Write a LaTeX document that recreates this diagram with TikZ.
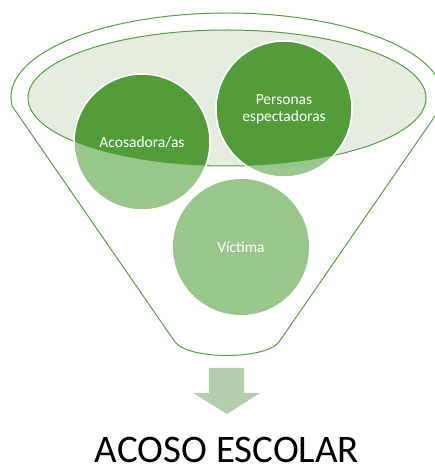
\documentclass[tikz,border=0pt]{standalone}
\usepackage{fontspec}
\setmainfont{Carlito}
\definecolor{funnelgreen}{HTML}{56A03F}
\definecolor{darkgreen}{HTML}{529D3A}
\definecolor{lightgreen}{HTML}{99C68A}
\definecolor{ellfill}{HTML}{E5EDE1}
\definecolor{arrowgreen}{HTML}{B4CEAD}
\tikzset{
  funnelline/.style={draw=funnelgreen, line width=1pt, fill=white},
  innerell/.style={draw=funnelgreen, line width=1pt, fill=ellfill},
  ball/.style={circle, minimum size=136pt, inner sep=0pt, fill=lightgreen, draw=white, line width=1.5pt},
  balllabel/.style={text=white, font=\fontsize{15.5}{17}\selectfont, align=center},
  bigarrow/.style={fill=arrowgreen},
  title/.style={font=\fontsize{39}{44}\selectfont, text=black, anchor=base, inner sep=0pt, text depth=0pt}
}
\begin{document}
\begin{tikzpicture}[x=1pt,y=1pt]
\useasboundingbox (0,0) rectangle (434,466);
% funnel outline
\draw[funnelline] ([shift={(186.5:216pt and 84pt)}]227,369) arc[start angle=186.5, end angle=-6.5, x radius=216pt, y radius=84pt] -- (279,124) .. controls (265,106) and (189,106) .. (175,124) -- cycle;
% inner ellipse
\draw[innerell] (227,368) ellipse [x radius=199pt, y radius=68pt];
% circles
\node[ball] (a) at (142,324) {};
\node[ball] (p) at (284,357) {};
\node[ball, draw=none] (v) at (241,219) {};
\begin{scope}
  \clip (227,368) ellipse [x radius=199pt, y radius=68pt];
  \filldraw[fill=darkgreen, draw=white, line width=1.5pt] (a.center) circle[radius=68pt];
  \filldraw[fill=darkgreen, draw=white, line width=1.5pt] (p.center) circle[radius=68pt];
\end{scope}
\node[balllabel] (al) at (a.center) {Acosadora/as};
\node[balllabel] (pl) at (p.center) {Personas\\espectadoras};
\node[balllabel] (vl) at (v.center) {Víctima};
% arrow
\fill[bigarrow] (209,98) -- (244,98) -- (244,73) -- (260,73) -- (227,52) -- (193,73) -- (209,73) -- cycle;
% title
\node[title] (t) at (227,4) {ACOSO ESCOLAR};
\end{tikzpicture}
\end{document}
